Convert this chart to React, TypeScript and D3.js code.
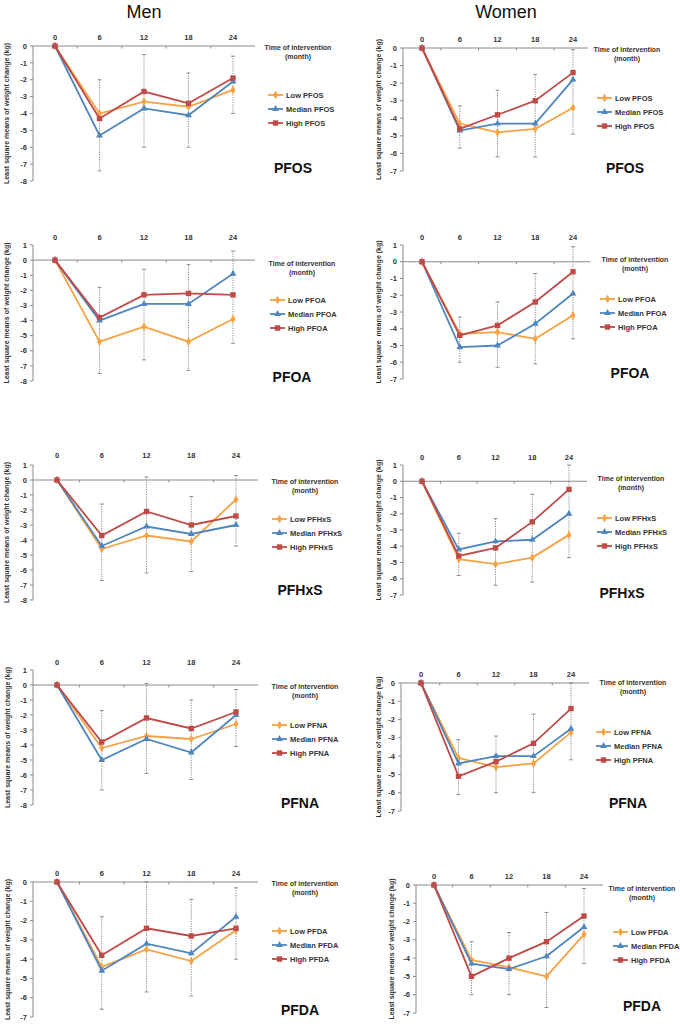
import React from "react";
import * as d3 from "d3";

const times = ["0", "6", "12", "18", "24"];
const seriesNames = ["Low", "Median", "High"];
const seriesColors = ["#F5A345", "#4F86BE", "#BE4B48"];

// Men
const menPFOS_low = [0, -4.0, -3.3, -3.6, -2.6];
const menPFOS_med = [0, -5.3, -3.7, -4.1, -2.1];
const menPFOS_high = [0, -4.3, -2.7, -3.4, -1.9];
const menPFOS_errTop = [-2.0, -0.5, -1.6, -0.6];
const menPFOS_errBot = [-7.4, -6.0, -6.0, -4.0];

const menPFOA_low = [0, -5.4, -4.4, -5.4, -3.9];
const menPFOA_med = [0, -4.0, -2.9, -2.9, -0.9];
const menPFOA_high = [0, -3.8, -2.3, -2.2, -2.3];
const menPFOA_errTop = [-1.8, -0.6, -0.3, 0.6];
const menPFOA_errBot = [-7.5, -6.6, -7.3, -5.5];

const menPFHxS_low = [0, -4.6, -3.7, -4.1, -1.3];
const menPFHxS_med = [0, -4.4, -3.1, -3.6, -3.0];
const menPFHxS_high = [0, -3.7, -2.1, -3.0, -2.4];
const menPFHxS_errTop = [-1.6, 0.2, -1.1, 0.3];
const menPFHxS_errBot = [-6.7, -6.2, -6.1, -4.4];

const menPFNA_low = [0, -4.2, -3.4, -3.6, -2.6];
const menPFNA_med = [0, -5.0, -3.6, -4.5, -2.0];
const menPFNA_high = [0, -3.8, -2.2, -2.9, -1.8];
const menPFNA_errTop = [-1.7, 0.1, -1.0, -0.3];
const menPFNA_errBot = [-7.0, -5.9, -6.3, -4.1];

const menPFDA_low = [0, -4.4, -3.5, -4.1, -2.5];
const menPFDA_med = [0, -4.6, -3.2, -3.7, -1.8];
const menPFDA_high = [0, -3.8, -2.4, -2.8, -2.4];
const menPFDA_errTop = [-1.8, 0.0, -0.9, -0.3];
const menPFDA_errBot = [-6.6, -5.7, -5.9, -4.0];

// Women
const womenPFOS_low = [0, -4.3, -4.8, -4.6, -3.4];
const womenPFOS_med = [0, -4.7, -4.3, -4.3, -1.8];
const womenPFOS_high = [0, -4.6, -3.8, -3.0, -1.4];
const womenPFOS_errTop = [-3.3, -2.4, -1.5, -0.1];
const womenPFOS_errBot = [-5.7, -6.2, -6.2, -4.9];

const womenPFOA_low = [0, -4.3, -4.2, -4.6, -3.2];
const womenPFOA_med = [0, -5.1, -5.0, -3.7, -1.9];
const womenPFOA_high = [0, -4.4, -3.8, -2.4, -0.6];
const womenPFOA_errTop = [-3.3, -2.4, -0.7, 0.9];
const womenPFOA_errBot = [-6.0, -6.3, -6.1, -4.6];

const womenPFHxS_low = [0, -4.8, -5.1, -4.7, -3.3];
const womenPFHxS_med = [0, -4.2, -3.7, -3.6, -2.0];
const womenPFHxS_high = [0, -4.6, -4.1, -2.5, -0.5];
const womenPFHxS_errTop = [-3.2, -2.3, -0.8, 1.0];
const womenPFHxS_errBot = [-5.8, -6.4, -6.2, -4.7];

const womenPFNA_low = [0, -4.1, -4.6, -4.4, -2.7];
const womenPFNA_med = [0, -4.4, -4.0, -4.0, -2.5];
const womenPFNA_high = [0, -5.1, -4.3, -3.3, -1.4];
const womenPFNA_errTop = [-3.1, -2.9, -1.7, 0.0];
const womenPFNA_errBot = [-6.1, -6.0, -6.0, -4.2];

const womenPFDA_low = [0, -4.1, -4.5, -5.0, -2.7];
const womenPFDA_med = [0, -4.3, -4.6, -3.9, -2.3];
const womenPFDA_high = [0, -5.0, -4.0, -3.1, -1.7];
const womenPFDA_errTop = [-3.1, -2.6, -1.5, -0.2];
const womenPFDA_errBot = [-6.0, -6.0, -6.7, -4.3];

type Layout = {
  axisX: number; x0: number; x24: number; end: number;
  yMax: number; yMaxPx: number; yMin: number; yMinPx: number;
  xlabY: number; timeX: number; timeY: number; legX: number; legY: number;
  nameX: number; nameY: number; ytX: number;
};

const panels: { name: string; series: number[][]; errTop: number[]; errBot: number[]; ytitle: string; L: Layout }[] = [
  { name: "PFOS", series: [menPFOS_low, menPFOS_med, menPFOS_high], errTop: menPFOS_errTop, errBot: menPFOS_errBot, ytitle: "Least square means of weight change (kg)",
    L: { axisX: 33, x0: 55, x24: 233, end: 255, yMax: 0, yMaxPx: 46, yMin: -8, yMinPx: 181, xlabY: 37, timeX: 298, timeY: 48, legX: 268, legY: 95, nameX: 293, nameY: 168, ytX: 7 } },
  { name: "PFOS", series: [womenPFOS_low, womenPFOS_med, womenPFOS_high], errTop: womenPFOS_errTop, errBot: womenPFOS_errBot, ytitle: "Least square means of weight change (kg)",
    L: { axisX: 403, x0: 422, x24: 573, end: 588, yMax: 0, yMaxPx: 48, yMin: -7, yMinPx: 171, xlabY: 39, timeX: 627, timeY: 50, legX: 597, legY: 98, nameX: 625, nameY: 168, ytX: 379 } },
  { name: "PFOA", series: [menPFOA_low, menPFOA_med, menPFOA_high], errTop: menPFOA_errTop, errBot: menPFOA_errBot, ytitle: "Least square means of weight change (kg)",
    L: { axisX: 33, x0: 55, x24: 233, end: 255, yMax: 1, yMaxPx: 245, yMin: -8, yMinPx: 381, xlabY: 237, timeX: 302, timeY: 264, legX: 270, legY: 300, nameX: 292, nameY: 377, ytX: 7 } },
  { name: "PFOA", series: [womenPFOA_low, womenPFOA_med, womenPFOA_high], errTop: womenPFOA_errTop, errBot: womenPFOA_errBot, ytitle: "Least square  means of weight change (kg)",
    L: { axisX: 403, x0: 422, x24: 573, end: 590, yMax: 1, yMaxPx: 245, yMin: -7, yMinPx: 379, xlabY: 237, timeX: 635, timeY: 260, legX: 600, legY: 299, nameX: 630, nameY: 373, ytX: 379 } },
  { name: "PFHxS", series: [menPFHxS_low, menPFHxS_med, menPFHxS_high], errTop: menPFHxS_errTop, errBot: menPFHxS_errBot, ytitle: "Least square means of weight change (kg)",
    L: { axisX: 33, x0: 57, x24: 236, end: 258, yMax: 1, yMaxPx: 465, yMin: -8, yMinPx: 600, xlabY: 455, timeX: 305, timeY: 482, legX: 272, legY: 519, nameX: 300, nameY: 590, ytX: 7 } },
  { name: "PFHxS", series: [womenPFHxS_low, womenPFHxS_med, womenPFHxS_high], errTop: womenPFHxS_errTop, errBot: womenPFHxS_errBot, ytitle: "Least square means of weight change (kg)",
    L: { axisX: 403, x0: 422, x24: 569, end: 587, yMax: 1, yMaxPx: 465, yMin: -7, yMinPx: 595, xlabY: 457, timeX: 631, timeY: 479, legX: 597, legY: 518, nameX: 622, nameY: 593, ytX: 379 } },
  { name: "PFNA", series: [menPFNA_low, menPFNA_med, menPFNA_high], errTop: menPFNA_errTop, errBot: menPFNA_errBot, ytitle: "Least square means of weight change (kg)",
    L: { axisX: 33, x0: 57, x24: 236, end: 258, yMax: 1, yMaxPx: 670, yMin: -8, yMinPx: 805, xlabY: 662, timeX: 305, timeY: 687, legX: 272, legY: 725, nameX: 300, nameY: 803, ytX: 8 } },
  { name: "PFNA", series: [womenPFNA_low, womenPFNA_med, womenPFNA_high], errTop: womenPFNA_errTop, errBot: womenPFNA_errBot, ytitle: "Least square means of weight change (kg)",
    L: { axisX: 401, x0: 421, x24: 571, end: 589, yMax: 0, yMaxPx: 683, yMin: -7, yMinPx: 811, xlabY: 674, timeX: 633, timeY: 683, legX: 596, legY: 732, nameX: 628, nameY: 803, ytX: 379 } },
  { name: "PFDA", series: [menPFDA_low, menPFDA_med, menPFDA_high], errTop: menPFDA_errTop, errBot: menPFDA_errBot, ytitle: "Least square means of weight change (kg)",
    L: { axisX: 33, x0: 57, x24: 236, end: 258, yMax: 0, yMaxPx: 882, yMin: -7, yMinPx: 1017, xlabY: 873, timeX: 305, timeY: 884, legX: 272, legY: 931, nameX: 300, nameY: 1010, ytX: 8 } },
  { name: "PFDA", series: [womenPFDA_low, womenPFDA_med, womenPFDA_high], errTop: womenPFDA_errTop, errBot: womenPFDA_errBot, ytitle: "Least square means of weight change (kg)",
    L: { axisX: 416, x0: 434, x24: 584, end: 603, yMax: 0, yMaxPx: 885, yMin: -7, yMinPx: 1013, xlabY: 876, timeX: 642, timeY: 889, legX: 613, legY: 932, nameX: 642, nameY: 1006, ytX: 392 } },
];

const FONT = "'Liberation Sans', Arial, sans-serif";
const AXIS = "#8a8a8a";
const TXT = "#333";

function Marker({ kind, x, y, color }: { kind: number; x: number; y: number; color: string }) {
  if (kind === 0) {
    const s = d3.symbol().type(d3.symbolDiamond).size(22)();
    return <path d={s || ""} transform={`translate(${x},${y})`} fill={color} />;
  }
  if (kind === 1) {
    const s = d3.symbol().type(d3.symbolTriangle).size(20)();
    return <path d={s || ""} transform={`translate(${x},${y})`} fill={color} />;
  }
  return <rect x={x - 2.7} y={y - 2.7} width={5.4} height={5.4} fill={color} />;
}

function Panel({ p }: { p: (typeof panels)[number] }) {
  const L = p.L;
  const x = d3.scalePoint<string>().domain(times).range([L.x0, L.x24]);
  const y = d3.scaleLinear().domain([L.yMin, L.yMax]).range([L.yMinPx, L.yMaxPx]);
  const yTicks = d3.range(L.yMax, L.yMin - 0.5, -1);
  const step = x.step();
  const midTicks = times.slice(0, -1).map((t) => (x(t) as number) + step / 2);
  const line = d3.line<number>().x((_, i) => x(times[i]) as number).y((v) => y(v));
  const ySpanMid = (L.yMaxPx + L.yMinPx) / 2;
  return (
    <g>
      {/* y axis */}
      <line x1={L.axisX} x2={L.axisX} y1={L.yMaxPx} y2={L.yMinPx} stroke={AXIS} strokeWidth={1} />
      {yTicks.map((t) => (
        <g key={t}>
          <line x1={L.axisX - 3} x2={L.axisX} y1={y(t)} y2={y(t)} stroke={AXIS} />
          <text x={L.axisX - 6} y={y(t)} dy="0.35em" textAnchor="end" fontSize={7.5} fontWeight="bold" fill={TXT} fontFamily={FONT}>
            {t}
          </text>
        </g>
      ))}
      {/* x axis at zero */}
      <line x1={L.axisX} x2={L.end} y1={y(0)} y2={y(0)} stroke={AXIS} strokeWidth={1} />
      {midTicks.map((m, i) => (
        <line key={i} x1={m} x2={m} y1={y(0)} y2={y(0) + 2.5} stroke={AXIS} />
      ))}
      {times.map((t) => (
        <text key={t} x={x(t)} y={L.xlabY} dy="0.35em" textAnchor="middle" fontSize={7.5} fontWeight="bold" fill={TXT} fontFamily={FONT}>
          {t}
        </text>
      ))}
      <text x={L.timeX} y={L.timeY} dy="0.35em" textAnchor="middle" fontSize={7} fontWeight="bold" fill={TXT} fontFamily={FONT}>
        Time of intervention
      </text>
      <text x={L.timeX} y={L.timeY + 9} dy="0.35em" textAnchor="middle" fontSize={7} fontWeight="bold" fill={TXT} fontFamily={FONT}>
        (month)
      </text>
      {/* y title */}
      <text
        transform={`translate(${L.ytX},${ySpanMid}) rotate(-90)`}
        textAnchor="middle"
        dy="0.35em"
        fontSize={7}
        fontWeight="bold"
        fill={TXT}
        fontFamily={FONT}
        style={{ whiteSpace: "pre" }}
      >
        {p.ytitle}
      </text>
      {/* error bars */}
      {p.errTop.map((top, i) => {
        const cx = x(times[i + 1]) as number;
        const ends = [top, p.errBot[i]];
        return (
          <g key={i}>
            <line x1={cx} x2={cx} y1={y(top)} y2={y(p.errBot[i])} stroke="#8c8c8c" strokeWidth={1} strokeDasharray="1.2,1.2" />
            {ends.map((e, k) => (
              <line key={k} x1={cx - 2} x2={cx + 2} y1={y(e)} y2={y(e)} stroke="#777" strokeWidth={0.8} />
            ))}
          </g>
        );
      })}
      {/* series */}
      {p.series.map((vals, si) => (
        <g key={si}>
          <path d={line(vals) || ""} fill="none" stroke={seriesColors[si]} strokeWidth={1.8} />
          {vals.map((v, i) => (
            <Marker key={i} kind={si} x={x(times[i]) as number} y={y(v)} color={seriesColors[si]} />
          ))}
        </g>
      ))}
      {/* legend */}
      {seriesNames.map((s, si) => {
        const ly = L.legY + si * 14;
        return (
          <g key={s}>
            <line x1={L.legX} x2={L.legX + 15} y1={ly} y2={ly} stroke={seriesColors[si]} strokeWidth={1.8} />
            <Marker kind={si} x={L.legX + 7.5} y={ly} color={seriesColors[si]} />
            <text x={L.legX + 18} y={ly} dy="0.35em" fontSize={7.5} fontWeight="bold" fill={TXT} fontFamily={FONT}>
              {`${s} ${p.name}`}
            </text>
          </g>
        );
      })}
      <text x={L.nameX} y={L.nameY} dy="0.35em" textAnchor="middle" fontSize={14} fontWeight="bold" fill="#111" fontFamily={FONT}>
        {p.name}
      </text>
    </g>
  );
}

export default function App() {
  return (
    <svg width={680} height={1024} style={{ position: "absolute", left: 0, top: 0, background: "#fff" }}>
      <rect width={680} height={1024} fill="#fff" />
      <text x={144} y={18} textAnchor="middle" fontSize={18} fill="#111" fontFamily={FONT}>
        Men
      </text>
      <text x={506} y={18} textAnchor="middle" fontSize={18} fill="#111" fontFamily={FONT}>
        Women
      </text>
      {panels.map((p, i) => (
        <Panel key={i} p={p} />
      ))}
    </svg>
  );
}
